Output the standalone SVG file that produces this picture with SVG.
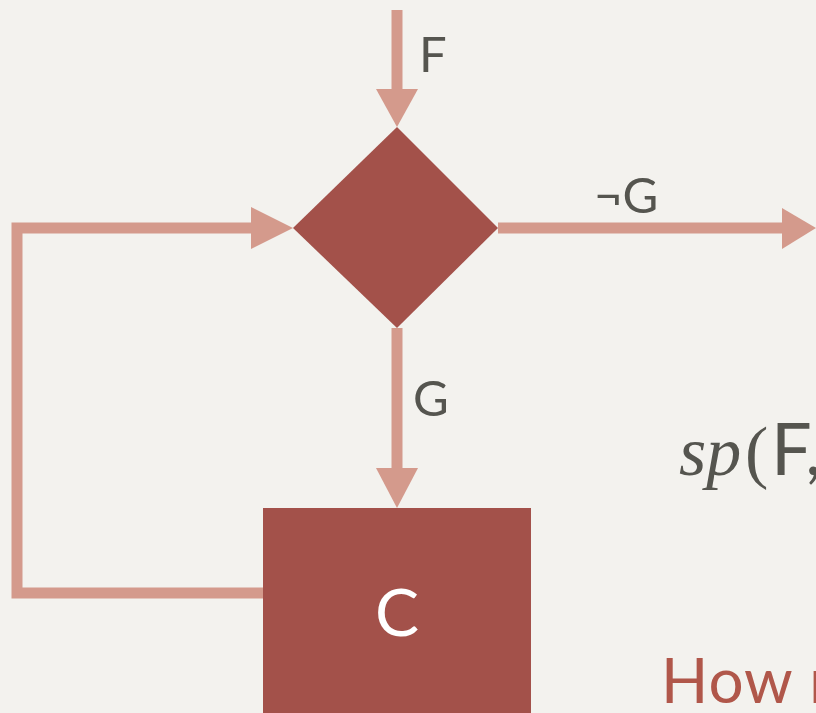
<svg xmlns="http://www.w3.org/2000/svg" width="816" height="713" viewBox="0 0 816 713">
<style>
.conn{stroke:#d49a8c;stroke-width:11;fill:none}
.head{fill:#d49a8c}
.shape{fill:#a3514a}
.lbl{font-family:Lato,"Open Sans",sans-serif;fill:#55554f;font-size:49px}
</style>
<rect width="816" height="713" fill="#f3f2ee"/>
<g id="connectors">
<line class="conn" x1="397" y1="10" x2="397" y2="92"/>
<polygon class="head" points="376,89 418,89 397,127"/>
<line class="conn" x1="498" y1="228" x2="786" y2="228"/>
<polygon class="head" points="782,208 782,249 816,228"/>
<line class="conn" x1="397" y1="328" x2="397" y2="472"/>
<polygon class="head" points="376,468 418,468 397,508"/>
<polyline class="conn" points="263,593 17,593 17,228 255,228"/>
<polygon class="head" points="251,207 251,249 293,228"/>
</g>
<g id="decision">
<polygon class="shape" points="397,127 498,228 397,328 293,228"/>
</g>
<g id="box-c">
<rect class="shape" x="263" y="508" width="268" height="210"/>
<text x="397" y="636" text-anchor="middle" font-family="Lato,'Open Sans',sans-serif" font-size="66" fill="#ffffff">C</text>
</g>
<g id="labels">
<text class="lbl" x="419" y="72">F</text>
<text class="lbl" x="594" y="213">¬G</text>
<text class="lbl" x="413" y="416">G</text>
<text y="475" font-size="70" fill="#55554f"><tspan x="679" font-family="'Liberation Serif',serif" font-style="italic">sp</tspan><tspan x="745" font-family="'Liberation Serif',serif">(</tspan><tspan x="771" font-family="Lato,'Open Sans',sans-serif" font-size="72">F,</tspan></text>
<text x="661" y="703" font-family="Lato,'Open Sans',sans-serif" font-size="62" fill="#b0574a" letter-spacing="1">How m</text>
</g>
</svg>
